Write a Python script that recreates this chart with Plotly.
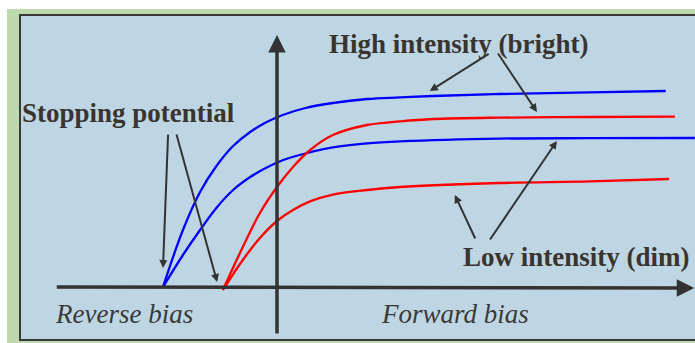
import plotly.graph_objects as go

# ---- data (voltage V, photocurrent I, arbitrary units) ----
blue_high_v = [-2.0, -1.65, -1.35, -1.05, -0.77, -0.47, -0.18, 0.10, 0.50, 0.98, 1.58, 2.16, 2.74, 3.91, 5.49, 6.82]
blue_high_i = [0.0, 2.85, 4.75, 6.1, 7.05, 7.75, 8.25, 8.6, 8.95, 9.2, 9.4, 9.48, 9.55, 9.65, 9.73, 9.8]

blue_low_v = [-2.0, -1.65, -1.35, -1.05, -0.77, -0.47, -0.18, 0.11, 0.53, 0.98, 1.58, 2.16, 3.91, 5.49, 7.33]
blue_low_i = [0.0, 1.6, 2.85, 4.0, 4.85, 5.5, 5.98, 6.35, 6.7, 6.98, 7.18, 7.28, 7.42, 7.44, 7.45]

red_high_v = [-0.95, -0.60, -0.30, 0.0, 0.28, 0.58, 0.98, 1.58, 2.16, 2.74, 3.91, 5.49, 6.98]
red_high_i = [-0.15, 2.0, 3.7, 5.0, 6.0, 6.85, 7.6, 8.1, 8.28, 8.4, 8.47, 8.5, 8.52]

red_low_v = [-0.95, -0.60, -0.30, 0.0, 0.28, 0.58, 0.98, 1.58, 2.16, 3.91, 5.49, 6.88]
red_low_i = [-0.15, 1.35, 2.45, 3.3, 3.85, 4.28, 4.62, 4.85, 5.0, 5.2, 5.28, 5.4]

labels = ["Stopping potential", "High intensity (bright)", "Low intensity (dim)"]
axis_labels = ["Reverse bias", "Forward bias"]

W, H = 695, 343
X0, Y0, KX, KY = 277, 287, 57.0, 20.0  # pixel origin and pixel-per-unit scale
xr = [(0 - X0) / KX, (W - X0) / KX]
yr = [(Y0 - H) / KY, Y0 / KY]

fig = go.Figure()
for v, i, c in [(blue_high_v, blue_high_i, "#0000FF"), (blue_low_v, blue_low_i, "#0000FF"),
                (red_high_v, red_high_i, "#FF0000"), (red_low_v, red_low_i, "#FF0000")]:
    fig.add_trace(go.Scatter(x=v, y=i, mode="lines",
                             line=dict(color=c, width=2.3, shape="spline", smoothing=1.0),
                             hoverinfo="skip", showlegend=False))

shapes = []
# green textured frame
shapes.append(dict(type="rect", xref="paper", yref="paper", x0=7 / W, x1=1.01, y0=-0.01, y1=1 - 9 / H,
                   fillcolor="#BFD9AF", line=dict(width=0), layer="below"))
# blue panel
shapes.append(dict(type="rect", xref="paper", yref="paper", x0=20 / W, x1=1.02, y0=1 - 340 / H, y1=1 - 15 / H,
                   fillcolor="#BED6E3", line=dict(color="#3a3a3a", width=2), layer="below"))

ann = []
ink = "#333333"
def arrow(tx, ty, hx, hy, width=2, head=2, size=1.0):
    ann.append(dict(x=hx, y=hy, ax=tx, ay=ty, xref="x", yref="y", axref="x", ayref="y",
                    text="", showarrow=True, arrowhead=head, arrowsize=size, arrowwidth=width,
                    arrowcolor=ink, standoff=0, startstandoff=0))

# axes (arrows)
arrow(-3.89, 0.0, 7.32, -0.05, width=3.5, head=2, size=1.0)
arrow(0.0, -2.4, 0.0, 12.6, width=3.5, head=2, size=1.0)

# pointer arrows
arrow(-1.91, 7.7, -2.0, 0.95, size=0.8)
arrow(-1.77, 7.7, -1.05, 0.25, size=0.8)
arrow(3.74, 11.7, 2.68, 9.8, size=0.8)
arrow(3.86, 11.75, 4.56, 8.75, size=0.8)
arrow(3.49, 2.35, 3.12, 4.6, size=0.8)
arrow(3.72, 2.3, 4.91, 7.3, size=0.8)

bold = dict(family="Liberation Serif, Times New Roman, serif", size=27, color="#3a3430")
ital = dict(family="Liberation Serif, Times New Roman, serif", size=27, color="#3a3a3a")
for (x, y), t in zip([(-2.605, 8.7), (3.19, 12.15), (5.25, 1.5)], labels):
    ann.append(dict(x=x, y=y, xref="x", yref="y", text="<b>%s</b>" % t, showarrow=False,
                    font=bold, xanchor="center", yanchor="middle"))
for (x, y), t in zip([(-2.69, -1.35), (3.12, -1.35)], axis_labels):
    ann.append(dict(x=x, y=y, xref="x", yref="y", text="<i>%s</i>" % t, showarrow=False,
                    font=ital, xanchor="center", yanchor="middle"))

fig.update_layout(
    width=W, height=H, margin=dict(l=0, r=0, t=0, b=0),
    paper_bgcolor="white", plot_bgcolor="rgba(0,0,0,0)",
    xaxis=dict(range=xr, visible=False, fixedrange=True),
    yaxis=dict(range=yr, visible=False, fixedrange=True),
    shapes=shapes, annotations=ann, showlegend=False,
)
fig.write_html("out.html", config={"displayModeBar": False},
               post_script="document.body.style.margin='0';document.body.style.overflow='hidden';")
